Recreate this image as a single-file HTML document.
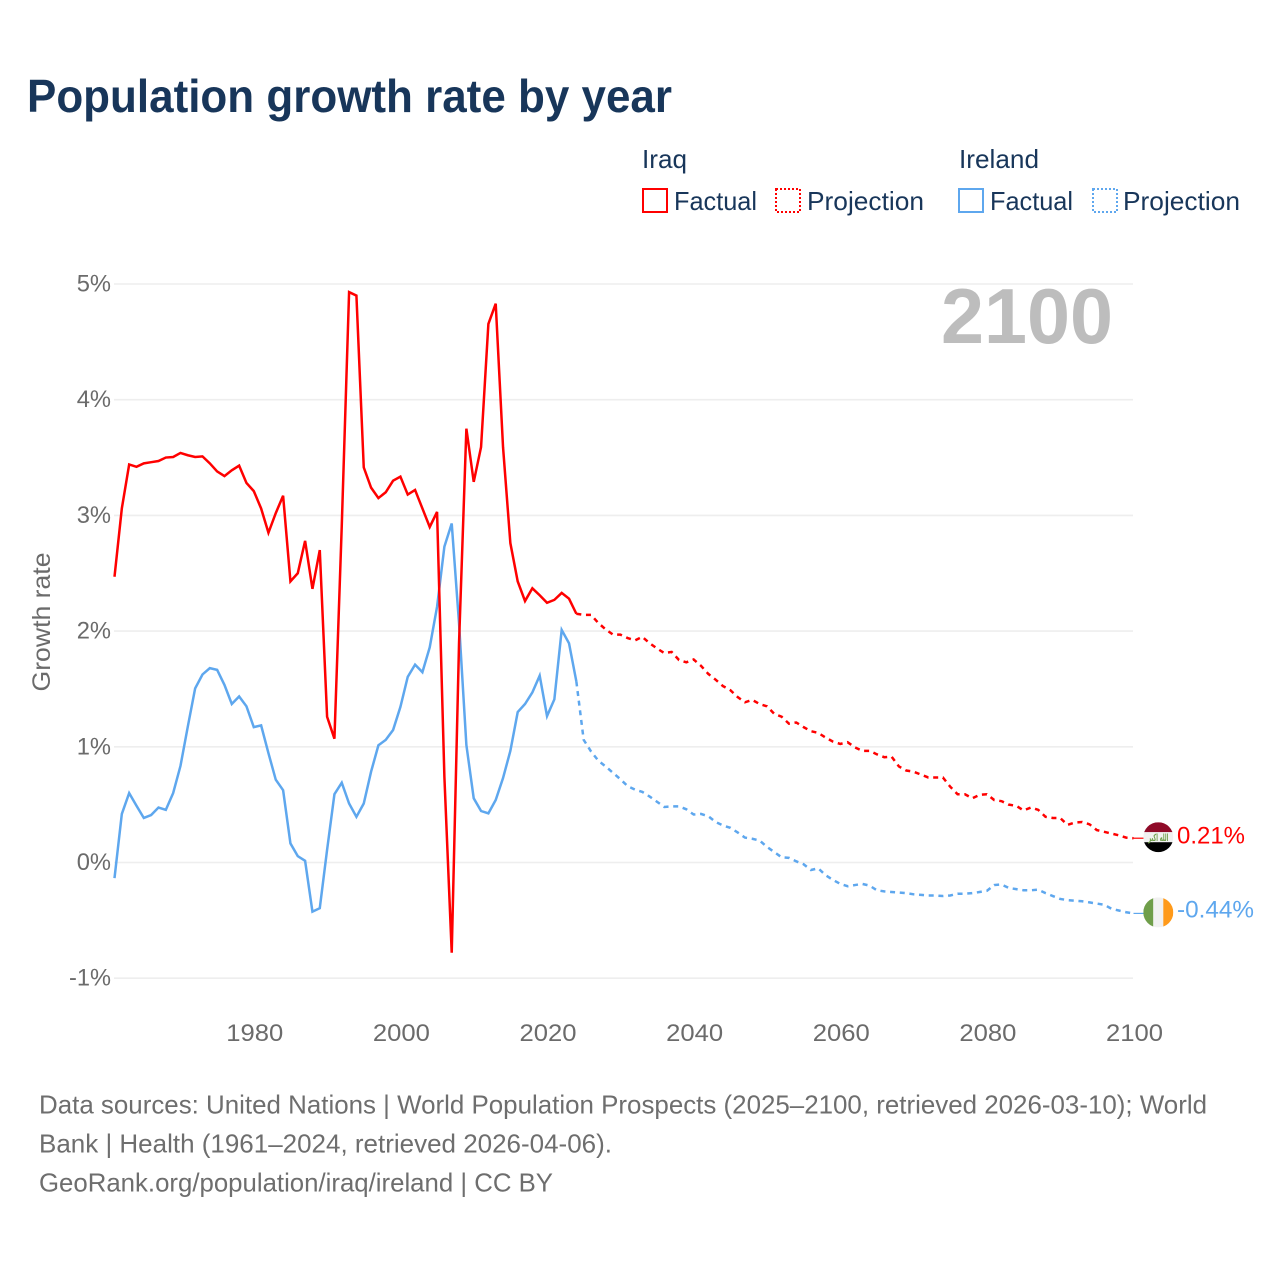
<!DOCTYPE html>
<html lang="en">
<head>
<meta charset="utf-8">
<title>Population growth rate by year</title>
<style>
html,body{margin:0;padding:0;background:#fff;width:1280px;height:1280px;overflow:hidden}
svg{display:block;font-family:"Liberation Sans","DejaVu Sans",sans-serif}
</style>
</head>
<body>
<svg id="chart" xmlns="http://www.w3.org/2000/svg" width="1280" height="1280" viewBox="0 0 1280 1280">
  <rect x="0" y="0" width="1280" height="1280" fill="#fff"/>
  <text x="27" y="112" font-size="46" font-weight="700" fill="#18365a" textLength="645" lengthAdjust="spacingAndGlyphs">Population growth rate by year</text>

  <g font-size="26" fill="#18365a">
    <text x="642" y="168" textLength="45" lengthAdjust="spacingAndGlyphs">Iraq</text>
    <rect x="643" y="189" width="24" height="23" fill="none" stroke="#ff0000" stroke-width="2"/>
    <text x="674" y="210" textLength="83" lengthAdjust="spacingAndGlyphs">Factual</text>
    <rect x="776" y="189" width="24" height="23" fill="none" stroke="#ff0000" stroke-width="2" stroke-dasharray="2 2"/>
    <text x="807" y="210" textLength="117" lengthAdjust="spacingAndGlyphs">Projection</text>
    <text x="959" y="168" textLength="80" lengthAdjust="spacingAndGlyphs">Ireland</text>
    <rect x="959" y="189" width="24" height="23" fill="none" stroke="#5ea7ee" stroke-width="2"/>
    <text x="990" y="210" textLength="83" lengthAdjust="spacingAndGlyphs">Factual</text>
    <rect x="1093" y="189" width="24" height="23" fill="none" stroke="#5ea7ee" stroke-width="2" stroke-dasharray="2 2"/>
    <text x="1123" y="210" textLength="117" lengthAdjust="spacingAndGlyphs">Projection</text>
  </g>

  <text transform="translate(50,622) rotate(-90)" text-anchor="middle" font-size="25" fill="#6b6b6b" textLength="139" lengthAdjust="spacingAndGlyphs">Growth rate</text>
  <g id="grid"></g>
  <g id="yticks"></g>
  <g id="xticks"></g>
  <text x="941" y="343" font-size="78" font-weight="700" fill="#bdbdbd" textLength="172" lengthAdjust="spacingAndGlyphs">2100</text>
  <g id="series"></g>

  <defs>
    <clipPath id="flagClip"><circle cx="0" cy="0" r="15"/></clipPath>
  </defs>
  <g id="flagIraq" clip-path="url(#flagClip)">
    <rect x="-15" y="-15" width="30" height="10" fill="#8f0a28"/>
    <rect x="-15" y="-5" width="30" height="10" fill="#f1f1f1"/>
    <rect x="-15" y="5" width="30" height="10" fill="#000"/>
    <text x="0" y="4" text-anchor="middle" font-size="10" font-weight="700" fill="#6f9e4a" font-family="'DejaVu Sans',sans-serif" textLength="20" lengthAdjust="spacingAndGlyphs">الله اكبر</text>
  </g>
  <g id="flagIreland" clip-path="url(#flagClip)">
    <rect x="-15" y="-15" width="10" height="30" fill="#6f9e4a"/>
    <rect x="-5" y="-15" width="10" height="30" fill="#f1f1f1"/>
    <rect x="5" y="-15" width="10" height="30" fill="#ff9a1a"/>
  </g>
  <text id="labelIraq" x="1177" font-size="24" fill="#ff0000" textLength="68" lengthAdjust="spacingAndGlyphs"></text>
  <text id="labelIreland" x="1177" font-size="24" fill="#5ea7ee" textLength="77" lengthAdjust="spacingAndGlyphs"></text>

  <g font-size="26" fill="#6e6e6e">
    <text x="39" y="1113.5" textLength="1168" lengthAdjust="spacingAndGlyphs">Data sources: United Nations | World Population Prospects (2025–2100, retrieved 2026-03-10); World</text>
    <text x="39" y="1152.5" textLength="573" lengthAdjust="spacingAndGlyphs">Bank | Health (1961–2024, retrieved 2026-04-06).</text>
    <a><text x="39" y="1191.5" textLength="514" lengthAdjust="spacingAndGlyphs">GeoRank.org/population/iraq/ireland | CC BY</text></a>
  </g>
</svg>

<script>
const yTickValues = [-1, 0, 1, 2, 3, 4, 5];
const xTickYears = [1980, 2000, 2020, 2040, 2060, 2080, 2100];

const iraqFactual = [2.47,3.06,3.44,3.42,3.45,3.46,3.47,3.50,3.505,3.54,3.52,3.505,3.51,3.45,3.38,3.34,3.39,3.43,3.28,3.21,3.06,2.85,3.02,3.17,2.43,2.50,2.78,2.365,2.70,1.26,1.07,2.91,4.93,4.90,3.415,3.24,3.15,3.20,3.30,3.335,3.18,3.22,3.06,2.90,3.03,0.74,-0.78,1.90,3.75,3.29,3.59,4.655,4.83,3.59,2.76,2.43,2.26,2.37,2.31,2.245,2.27,2.33,2.28,2.15];

const iraqProjection = [2.15,2.14,2.14,2.07,2.015,1.97,1.97,1.94,1.92,1.95,1.895,1.85,1.81,1.82,1.75,1.73,1.755,1.70,1.63,1.58,1.525,1.49,1.43,1.385,1.405,1.37,1.35,1.285,1.26,1.20,1.21,1.17,1.135,1.12,1.08,1.045,1.025,1.04,0.995,0.965,0.965,0.935,0.91,0.915,0.83,0.795,0.785,0.76,0.735,0.735,0.735,0.655,0.59,0.59,0.555,0.585,0.59,0.54,0.53,0.50,0.49,0.45,0.475,0.455,0.395,0.385,0.385,0.325,0.345,0.35,0.33,0.28,0.265,0.25,0.235,0.215,0.21];

const irelandFactual = [-0.135,0.42,0.60,0.49,0.385,0.41,0.475,0.455,0.60,0.835,1.175,1.505,1.625,1.68,1.665,1.535,1.37,1.435,1.35,1.17,1.185,0.945,0.715,0.625,0.165,0.055,0.015,-0.425,-0.395,0.11,0.59,0.69,0.51,0.395,0.51,0.785,1.013,1.06,1.145,1.345,1.605,1.71,1.645,1.86,2.21,2.73,2.93,2.065,1.015,0.555,0.445,0.425,0.54,0.73,0.965,1.30,1.37,1.47,1.615,1.265,1.41,2.01,1.895,1.565];

const irelandProjection = [1.565,1.06,0.96,0.88,0.83,0.775,0.72,0.66,0.63,0.61,0.57,0.525,0.48,0.485,0.485,0.46,0.415,0.42,0.40,0.35,0.32,0.30,0.26,0.215,0.205,0.19,0.135,0.09,0.045,0.04,0.01,-0.015,-0.065,-0.05,-0.11,-0.15,-0.185,-0.205,-0.195,-0.185,-0.20,-0.24,-0.25,-0.255,-0.26,-0.265,-0.275,-0.28,-0.285,-0.285,-0.29,-0.285,-0.27,-0.27,-0.265,-0.255,-0.245,-0.195,-0.19,-0.22,-0.23,-0.24,-0.24,-0.235,-0.265,-0.29,-0.315,-0.325,-0.33,-0.335,-0.345,-0.355,-0.365,-0.40,-0.415,-0.43,-0.44];

const NS = 'http://www.w3.org/2000/svg';
const factualStartYear = 1961;
const projectionStartYear = 2024;
const x = year => 114.5 + (year - 1961) * (1133.5 - 114.5) / 139;
const y = v => 862.5 - v * 115.7;

function make(tag, parent, attrs) {
  const el = document.createElementNS(NS, tag);
  for (const k in attrs) el.setAttribute(k, attrs[k]);
  parent.appendChild(el);
  return el;
}

const grid = document.getElementById('grid');
const yticks = document.getElementById('yticks');
yTickValues.forEach(v => {
  const line = make('line', grid, {x1: 114, x2: 1133, y1: y(v), y2: y(v), stroke: '#eeeeee', 'stroke-width': 1.6});
  
  
  const t = make('text', yticks, {x: 111, y: y(v) + 7.5, 'text-anchor': 'end', 'font-size': 24, fill: '#6b6b6b', textLength: String(v).length * 7.7 + 26.6, lengthAdjust: 'spacingAndGlyphs'});
  t.textContent = v + '%';
  
  
});

const xticks = document.getElementById('xticks');
xTickYears.forEach(yr => {
  const t = make('text', xticks, {x: x(yr) + 1, y: 1041, 'text-anchor': 'middle', 'font-size': 24, fill: '#6b6b6b', textLength: 57, lengthAdjust: 'spacingAndGlyphs'});
  t.textContent = yr;
  
  
});

function pathFrom(values, startYear) {
  return values.map((v, i) => (i ? 'L' : 'M') + x(startYear + i).toFixed(2) + ' ' + y(v).toFixed(2)).join(' ');
}

const series = document.getElementById('series');

const irelandLine = make('path', series, {d: pathFrom(irelandFactual, factualStartYear), fill: 'none', stroke: '#5ea7ee', 'stroke-width': 2.5, 'stroke-linejoin': 'miter'});



const irelandDash = make('path', series, {d: pathFrom(irelandProjection, projectionStartYear), fill: 'none', stroke: '#5ea7ee', 'stroke-width': 2.5, 'stroke-dasharray': '5 4.7'});



const iraqLine = make('path', series, {d: pathFrom(iraqFactual, factualStartYear), fill: 'none', stroke: '#ff0000', 'stroke-width': 2.5, 'stroke-linejoin': 'miter'});



const iraqDash = make('path', series, {d: pathFrom(iraqProjection, projectionStartYear), fill: 'none', stroke: '#ff0000', 'stroke-width': 2.5, 'stroke-dasharray': '5 4.7'});



const iraqLast = iraqProjection[iraqProjection.length - 1];
const irelandLast = irelandProjection[irelandProjection.length - 1];

const iraqConnector = make('line', series, {x1: 1133.5, x2: 1144, y1: y(iraqLast), y2: y(iraqLast), stroke: '#ff0000', 'stroke-width': 1.2});



const irelandConnector = make('line', series, {x1: 1133.5, x2: 1144, y1: y(irelandLast), y2: y(irelandLast), stroke: '#5ea7ee', 'stroke-width': 1.2});



document.getElementById('flagIraq').setAttribute('transform', 'translate(1158.3,' + (y(iraqLast) - 1) + ')');
document.getElementById('flagIreland').setAttribute('transform', 'translate(1158.3,' + (y(irelandLast) - 1) + ')');

const labelIraq = document.getElementById('labelIraq');
labelIraq.setAttribute('y', y(iraqLast) + 5.5);
labelIraq.textContent = iraqLast.toFixed(2) + '%';
const labelIreland = document.getElementById('labelIreland');
labelIreland.setAttribute('y', y(irelandLast) + 4);
labelIreland.textContent = irelandLast.toFixed(2) + '%';
</script>
</body>
</html>
